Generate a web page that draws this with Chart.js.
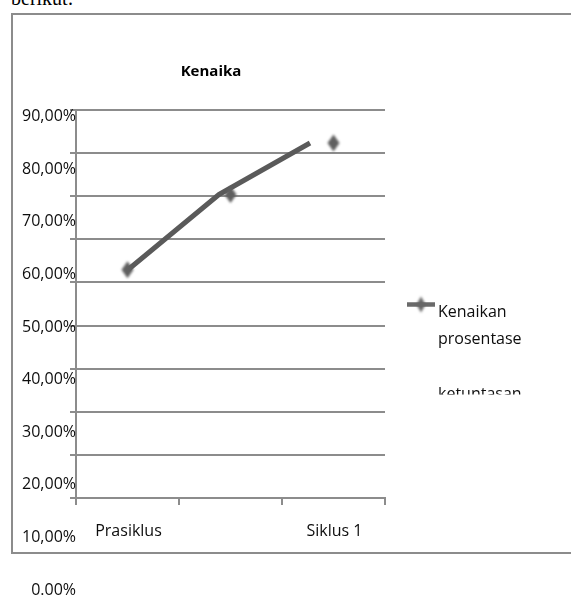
<!DOCTYPE html>
<html>
<head>
<meta charset="utf-8">
<script src="https://cdn.jsdelivr.net/npm/chart.js@4.4.0/dist/chart.umd.min.js"></script>
<style>
  html, body { margin: 0; padding: 0; background: #fff; width: 571px; height: 599px; overflow: hidden; position: relative; }
  #lead { position: absolute; left: 11px; top: -12px; font: 20px/20px "Liberation Serif", serif; color: #000; white-space: nowrap; }
  #frame { position: absolute; left: 11px; top: 13px; width: 640px; height: 541px; box-sizing: border-box; border: 2px solid #8c8c8c; }
  #c { position: absolute; left: 0; top: 0; }
</style>
</head>
<body>
<div id="lead">berikut:</div>
<div id="frame"></div>
<canvas id="c" width="571" height="599"></canvas>
<script>
// Chart data
const CATEGORIES = ['Prasiklus', '', 'Siklus 1'];
const VALUES = [60.9, 75.2, 85.0];
const SERIES_LINES = ['Kenaikan', 'prosentase', 'ketuntasan'];
const TITLE = 'Kenaika';
const TICK_VALUES = [0, 10, 20, 30, 40, 50, 60, 70, 80, 90];
const TICK_LABELS = ['0.00%', '10,00%', '20,00%', '30,00%', '40,00%', '50,00%', '60,00%', '70,00%', '80,00%', '90,00%'];

const GRID = '#8c8c8c';
const INK = '#0d0d0d';
const FONT = '"Open Sans", "Noto Sans", sans-serif';

// Soft grey diamond used for the markers
function makeDiamond(w, h, color) {
  const pad = 3;
  const cv = document.createElement('canvas');
  cv.width = w + pad * 2;
  cv.height = h + pad * 2;
  const g = cv.getContext('2d');
  g.filter = 'blur(0.8px)';
  g.fillStyle = color;
  g.beginPath();
  g.moveTo(pad + w / 2, pad);
  g.lineTo(pad + w, pad + h / 2);
  g.lineTo(pad + w / 2, pad + h);
  g.lineTo(pad, pad + h / 2);
  g.closePath();
  g.fill();
  return cv;
}
const diamond = makeDiamond(12, 17, '#5f5f5f');
const legendDiamond = makeDiamond(9, 16, '#666666');

// Title and legend block
const decorations = {
  id: 'decorations',
  afterDraw(chart) {
    const ctx = chart.ctx;
    ctx.save();
    ctx.fillStyle = '#000';
    ctx.font = 'bold 15px ' + FONT;
    ctx.textAlign = 'center';
    ctx.textBaseline = 'middle';
    ctx.fillText(TITLE, 211, 72);

    // legend symbol
    ctx.save();
    ctx.filter = 'blur(0.7px)';
    ctx.strokeStyle = '#6a6a6a';
    ctx.lineWidth = 4.5;
    ctx.beginPath();
    ctx.moveTo(407, 304.5);
    ctx.lineTo(435, 304.5);
    ctx.stroke();
    ctx.restore();
    ctx.drawImage(legendDiamond, 421 - legendDiamond.width / 2, 304.5 - legendDiamond.height / 2);

    // legend text, the last line is cut by the legend box
    ctx.fillStyle = INK;
    ctx.font = '16px ' + FONT;
    ctx.textAlign = 'left';
    ctx.textBaseline = 'alphabetic';
    ctx.fillText(SERIES_LINES[0], 438, 317);
    ctx.fillText(SERIES_LINES[1], 438, 343.5);
    ctx.beginPath();
    ctx.rect(380, 350, 190, 44.5);
    ctx.clip();
    ctx.fillText(SERIES_LINES[2], 438, 399);
    ctx.restore();
  }
};

new Chart(document.getElementById('c'), {
  type: 'line',
  data: {
    labels: CATEGORIES,
    datasets: [
      {
        label: SERIES_LINES.join(' '),
        data: VALUES,
        xAxisID: 'x',
        yAxisID: 'yl',
        showLine: false,
        pointStyle: diamond,
        pointRadius: 6,
        borderColor: '#5f5f5f',
        backgroundColor: '#5f5f5f'
      },
      {
        label: SERIES_LINES.join(' '),
        data: VALUES.map((v, i) => ({ x: i, y: v })),
        xAxisID: 'xl',
        yAxisID: 'yl',
        borderColor: '#5a5a5a',
        borderWidth: 5,
        borderJoinStyle: 'round',
        borderCapStyle: 'butt',
        pointRadius: 0,
        tension: 0,
        fill: false
      }
    ]
  },
  options: {
    responsive: false,
    animation: false,
    events: [],
    layout: { padding: { left: 0, right: 186, top: 110, bottom: 51 } },
    plugins: {
      legend: { display: false },
      title: { display: false },
      tooltip: { enabled: false }
    },
    scales: {
      x: {
        type: 'category',
        position: 'bottom',
        offset: true,
        grid: { display: true, offset: true, drawOnChartArea: false, drawTicks: true, tickLength: 7, color: GRID, lineWidth: 2 },
        border: { display: true, color: GRID, width: 2 },
        ticks: { autoSkip: false, maxRotation: 0, padding: 17, labelOffset: 1, color: INK, font: { family: FONT, size: 16 } },
        afterFit(s) { s.height = 50; }
      },
      xl: { type: 'linear', display: false, min: -0.571, max: 2.824 },
      y: {
        type: 'linear',
        position: 'left',
        weight: 0,
        min: 0,
        max: 90,
        ticks: { display: false, stepSize: 10 },
        grid: { color: GRID, lineWidth: 2, tickLength: 6, drawTicks: true },
        border: { display: true, color: GRID, width: 2 },
        afterFit(s) { s.width = 0; }
      },
      yl: {
        type: 'linear',
        position: 'left',
        weight: 1,
        min: 17.5,
        max: 91.27,
        grid: { display: false, drawTicks: false },
        border: { display: false },
        afterBuildTicks(s) { s.ticks = TICK_VALUES.map(v => ({ value: v })); },
        ticks: {
          autoSkip: false,
          padding: 0,
          color: INK,
          font: { family: FONT, size: 16 },
          callback: (v) => TICK_LABELS[TICK_VALUES.indexOf(v)]
        },
        afterFit(s) { s.width = 76; }
      }
    }
  },
  plugins: [decorations]
});
</script>
</body>
</html>
